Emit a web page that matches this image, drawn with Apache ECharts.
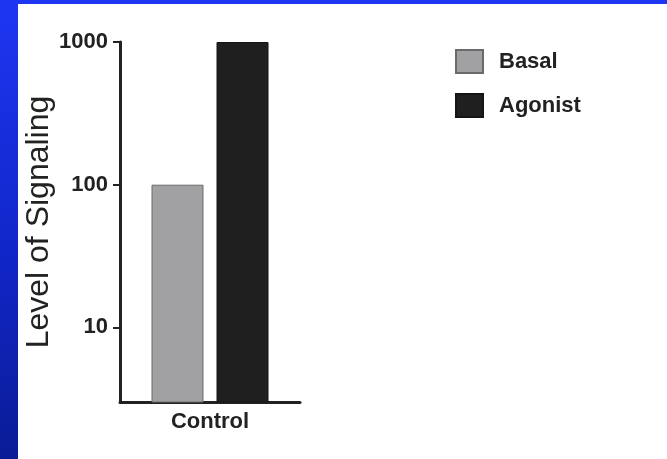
<!DOCTYPE html>
<html>
<head>
<meta charset="utf-8">
<script src="https://cdn.jsdelivr.net/npm/echarts@6/dist/echarts.min.js"></script>
<style>
  html, body { margin: 0; padding: 0; width: 667px; height: 459px; overflow: hidden; }
  body { background: linear-gradient(to bottom, #1e36f2 0%, #1126c8 55%, #0a1c96 100%); position: relative; }
  #chart { position: absolute; left: 18px; top: 4px; width: 649px; height: 455px; background: #ffffff; }
</style>
</head>
<body>
<div id="chart"></div>
<script>
const categories = ['Control'];
const basalValues = [100];
const agonistValues = [1000];
const yTickValues = [10, 100, 1000];
const yAxisTitle = 'Level of Signaling';
const seriesNames = ['Basal', 'Agonist'];

const chart = echarts.init(document.getElementById('chart'), null, { renderer: 'canvas' });
const fontFamily = '"Liberation Sans", Arial, Helvetica, sans-serif';

chart.setOption({
  backgroundColor: '#ffffff',
  animation: false,
  grid: { left: 102, top: 38, width: 180, height: 360, outerBoundsMode: 'none', containLabel: false },
  legend: {
    orient: 'vertical',
    left: 432,
    top: 40,
    itemWidth: 27,
    itemHeight: 23,
    itemGap: 19,
    icon: 'rect',
    data: seriesNames,
    textStyle: { fontFamily: fontFamily, fontWeight: 'bold', fontSize: 22, color: '#222222', padding: [0, 0, 0, 11] }
  },
  xAxis: {
    type: 'category',
    data: categories,
    axisLine: { lineStyle: { color: '#222222', width: 3 } },
    axisTick: { show: false },
    axisLabel: { fontFamily: fontFamily, fontWeight: 'bold', fontSize: 22, color: '#222222', margin: 9 },
    splitLine: { show: false }
  },
  yAxis: {
    type: 'log',
    logBase: 10,
    min: 3,
    max: 1000,
    name: yAxisTitle,
    nameLocation: 'middle',
    nameGap: 65,
    nameTextStyle: { fontFamily: fontFamily, fontSize: 32, color: '#222222' },
    axisLine: { show: true, lineStyle: { color: '#222222', width: 3 } },
    axisTick: { show: true, length: 7, lineStyle: { color: '#222222', width: 2 }, customValues: yTickValues },
    axisLabel: {
      fontFamily: fontFamily, fontWeight: 'bold', fontSize: 22, color: '#222222', margin: 12,
      customValues: yTickValues,
      formatter: function (v) { return yTickValues.indexOf(Math.round(v)) >= 0 ? String(Math.round(v)) : ''; }
    },
    splitLine: { show: false },
    minorTick: { show: false }
  },
  series: [
    {
      name: seriesNames[0],
      type: 'bar',
      data: basalValues,
      barWidth: 52,
      barGap: '25%',
      itemStyle: { color: '#a1a1a3', borderColor: '#6a6a6a', borderWidth: 1 }
    },
    {
      name: seriesNames[1],
      type: 'bar',
      data: agonistValues,
      barWidth: 52,
      barGap: '25%',
      itemStyle: { color: '#1f1f1f', borderColor: '#141414', borderWidth: 1 }
    }
  ]
});
</script>
</body>
</html>
